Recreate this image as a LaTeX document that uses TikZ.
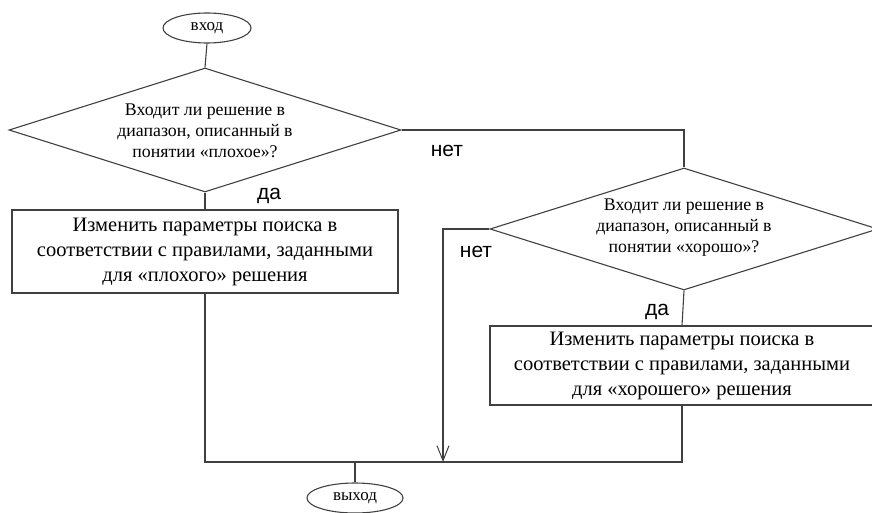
\documentclass[tikz,border=0pt]{standalone}
\usepackage{fontspec}
\setmainfont{Liberation Serif}
\newfontfamily\labfont{Liberation Sans}
\usetikzlibrary{shapes.geometric,arrows.meta}
\begin{document}
\begin{tikzpicture}[x=1pt,y=-1pt,
  conn/.style={draw=black!75,line width=1.1pt},
  term/.style={ellipse,draw=black!75,line width=1.1pt,minimum width=88pt,minimum height=30pt,inner sep=0pt,font=\fontsize{17}{19}\selectfont},
  decision/.style={diamond,draw=black!75,line width=1.1pt,inner sep=0pt},
  dtext/.style={align=center,inner sep=0pt,font=\fontsize{17.8}{21}\selectfont},
  action/.style={rectangle,draw=black!75,line width=1.1pt,inner sep=0pt,align=center,font=\fontsize{20.5}{25}\selectfont},
  lab/.style={font=\labfont\fontsize{21}{23}\selectfont,inner sep=0pt}]
\useasboundingbox (0,0) rectangle (872,513);
\node[term] (in) at (207,28) {вход};
\node[decision,minimum width=392pt,minimum height=124pt] (d1) at (205,130) {};
\node[dtext] (t1) at (205,131) {Входит ли решение в\\диапазон, описанный в\\понятии «плохое»?};
\node[action,minimum width=386pt,minimum height=83pt] (b1) at (205,251.5) {Изменить параметры поиска в\\соответствии с правилами, заданными\\для «плохого» решения};
\node[decision,minimum width=388pt,minimum height=122pt] (d2) at (684,229) {};
\node[dtext] (t2) at (684,228) {Входит ли решение в\\диапазон, описанный в\\понятии «хорошо»?};
\node[action,minimum width=384pt,minimum height=79pt] (b2) at (682,365.5) {Изменить параметры поиска в\\соответствии с правилами, заданными\\для «хорошего» решения};
\node[term,minimum width=96pt] (out) at (355,498) {выход};
\coordinate (j) at (355,462);
\coordinate (a) at (443,462);
\node[lab] (n1) at (447,151) {нет};
\node[lab] (y1) at (269,196) {да};
\node[lab] (n2) at (476,252) {нет};
\node[lab] (y2) at (657,312) {да};
\draw[conn] (in.south) -- (d1.north);
\draw[conn] (d1.south) -- (b1.north);
\draw[conn] (d1.east) -| (d2.north);
\draw[conn] (d2.south) -- (b2.north);
\draw[conn] (b1.south) |- (j) -| (b2.south);
\draw[conn] (j) -- (out.north);
\draw[conn,-{Straight Barb[length=15pt,width=12pt,line width=1pt]}] (d2.west) -| (a);
\end{tikzpicture}
\end{document}
